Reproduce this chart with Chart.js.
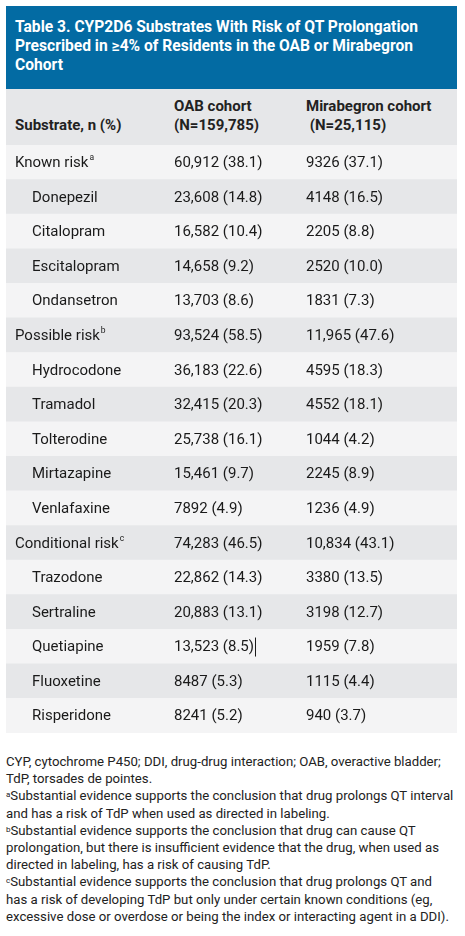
<!DOCTYPE html>
<html><head><meta charset="utf-8">
<script src="https://cdn.jsdelivr.net/npm/chart.js@4"></script>
<style>
body{margin:0;width:465px;height:936px;background:#fff;font-family:Roboto,"Noto Sans",sans-serif;position:relative;overflow:hidden}
#title{position:absolute;left:6px;top:6px;width:451px;height:83px;background:#036ba3;color:#fff;font-weight:bold;font-size:15.6px;line-height:19px;box-sizing:border-box;padding:12px 30px 0 9px}
#colhead{position:absolute;left:6px;top:89px;width:451px;height:56px;background:#e6e7e9;color:#222;font-weight:bold;font-size:15px;line-height:19px}
#colhead div{position:absolute}
#wrap{position:absolute;left:6px;top:145px;width:451px;height:588px}
#foot{position:absolute;left:6px;top:753px;width:450px;font-size:13.2px;line-height:17.2px;color:#222}
sup{font-size:8px;vertical-align:top;position:relative;top:-1px}
</style></head><body>
<div id="title">Table 3. CYP2D6 Substrates With Risk of QT Prolongation Prescribed in ≥4% of Residents in the OAB or Mirabegron Cohort</div>
<div id="colhead">
<div style="left:9px;top:27px">Substrate, n (%)</div>
<div style="left:168px;top:8px">OAB cohort<br>(N=159,785)</div>
<div style="left:300px;top:8px">Mirabegron cohort<br>&nbsp;(N=25,115)</div>
</div>
<div id="wrap"><canvas id="c"></canvas></div>
<div id="foot">CYP, cytochrome P450; DDI, drug-drug interaction; OAB, overactive bladder; TdP, torsades de pointes.<br><sup>a</sup>Substantial evidence supports the conclusion that drug prolongs QT interval and has a risk of TdP when used as directed in labeling.<br><sup>b</sup>Substantial evidence supports the conclusion that drug can cause QT prolongation, but there is insufficient evidence that the drug, when used as directed in labeling, has a risk of causing TdP.<br><sup>c</sup>Substantial evidence supports the conclusion that drug prolongs QT and has a risk of developing TdP but only under certain known conditions (eg, excessive dose or overdose or being the index or interacting agent in a DDI).</div>
<script>
const substrates=["Known risk","Donepezil","Citalopram","Escitalopram","Ondansetron","Possible risk","Hydrocodone","Tramadol","Tolterodine","Mirtazapine","Venlafaxine","Conditional risk","Trazodone","Sertraline","Quetiapine","Fluoxetine","Risperidone"];
const superscripts=["a","","","","","b","","","","","","c","","","","",""];
const isGroup=[1,0,0,0,0,1,0,0,0,0,0,1,0,0,0,0,0];
const oab=["60,912 (38.1)","23,608 (14.8)","16,582 (10.4)","14,658 (9.2)","13,703 (8.6)","93,524 (58.5)","36,183 (22.6)","32,415 (20.3)","25,738 (16.1)","15,461 (9.7)","7892 (4.9)","74,283 (46.5)","22,862 (14.3)","20,883 (13.1)","13,523 (8.5)","8487 (5.3)","8241 (5.2)"];
const mira=["9326 (37.1)","4148 (16.5)","2205 (8.8)","2520 (10.0)","1831 (7.3)","11,965 (47.6)","4595 (18.3)","4552 (18.1)","1044 (4.2)","2245 (8.9)","1236 (4.9)","10,834 (43.1)","3380 (13.5)","3198 (12.7)","1959 (7.8)","1115 (4.4)","940 (3.7)"];
const F='15px Roboto';
const cellText={id:'cellText',afterDatasetsDraw(ch){
 const ctx=ch.ctx,y=ch.scales.y,x=ch.scales.x;ctx.save();
 ctx.fillStyle='#1a1a1a';ctx.textBaseline='middle';
 substrates.forEach((s,i)=>{
  const py=y.getPixelForValue(i)+1;
  const lx=x.left+(isGroup[i]?9:26);
  ctx.font=F;ctx.fillText(s,lx,py);
  if(superscripts[i]){const w=ctx.measureText(s).width;ctx.font='8.5px Roboto';ctx.fillText(superscripts[i],lx+w+1,py-5);}
  ctx.font=F;
  ctx.fillText(oab[i],x.left+168,py);
  ctx.fillText(mira[i],x.left+300,py);
 });
 ctx.font=F;
 const qw=ctx.measureText(oab[14]).width;
 ctx.fillRect(x.left+168+qw+1,y.getPixelForValue(14)-9,1,19);
 ctx.restore();}};
new Chart(document.getElementById('c'),{type:'bar',
 data:{labels:substrates,datasets:[{data:substrates.map(()=>1),backgroundColor:substrates.map((_,i)=>i%2?'#e6e7e9':'#f4f4f5'),barPercentage:1,categoryPercentage:1,borderWidth:0}]},
 options:{indexAxis:'y',responsive:true,maintainAspectRatio:false,animation:false,layout:{padding:0},
  plugins:{legend:{display:false},tooltip:{enabled:false}},
  scales:{x:{display:false,min:0,max:1},y:{display:false}}},
 plugins:[cellText]});
</script></body></html>
